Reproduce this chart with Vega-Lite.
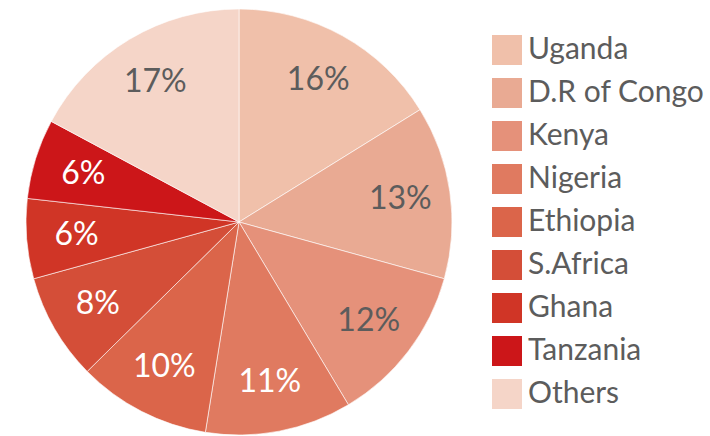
{
  "$schema": "https://vega.github.io/schema/vega-lite/v6.json",
  "width": 478,
  "height": 428,
  "autosize": {"type": "none"},
  "padding": {"top": 8, "left": 0, "right": 232, "bottom": 0},
  "background": "white",
  "view": {"stroke": null},
  "data": {
    "values": [
      {"country": "Uganda", "value": 16, "rank": 1},
      {"country": "D.R of Congo", "value": 13, "rank": 2},
      {"country": "Kenya", "value": 12, "rank": 3},
      {"country": "Nigeria", "value": 11, "rank": 4},
      {"country": "Ethiopia", "value": 10, "rank": 5},
      {"country": "S.Africa", "value": 8, "rank": 6},
      {"country": "Ghana", "value": 6, "rank": 7},
      {"country": "Tanzania", "value": 6, "rank": 8},
      {"country": "Others", "value": 17, "rank": 9}
    ]
  },
  "encoding": {
    "theta": {"field": "value", "type": "quantitative", "stack": true},
    "order": {"field": "rank", "type": "quantitative"}
  },
  "layer": [
    {
      "mark": {"type": "arc", "outerRadius": 213, "stroke": "white", "strokeWidth": 0.6},
      "encoding": {
        "color": {
          "field": "country",
          "type": "nominal",
          "sort": ["Uganda", "D.R of Congo", "Kenya", "Nigeria", "Ethiopia", "S.Africa", "Ghana", "Tanzania", "Others"],
          "scale": {
            "domain": ["Uganda", "D.R of Congo", "Kenya", "Nigeria", "Ethiopia", "S.Africa", "Ghana", "Tanzania", "Others"],
            "range": ["#F0C0AA", "#E9AA93", "#E5917A", "#E07A60", "#DB654A", "#D44E38", "#D03526", "#CC1619", "#F5D5C8"]
          },
          "legend": {
            "title": null,
            "orient": "none",
            "legendX": 492,
            "legendY": 27,
            "padding": 0,
            "symbolType": "square",
            "symbolSize": 900,
            "symbolStrokeWidth": 0,
            "rowPadding": 13,
            "labelOffset": 6,
            "labelFont": "Lato",
            "labelFontSize": 30,
            "labelColor": "#5c5c5c",
            "labelLimit": 300
          }
        }
      }
    },
    {
      "mark": {"type": "text", "radius": 163, "font": "Lato", "fontSize": 32, "text": {"expr": "datum.value + '%'"}},
      "encoding": {
        "color": {
          "condition": {"test": "datum.value >= 12", "value": "#5c5c5c"},
          "value": "white"
        }
      }
    }
  ]
}
